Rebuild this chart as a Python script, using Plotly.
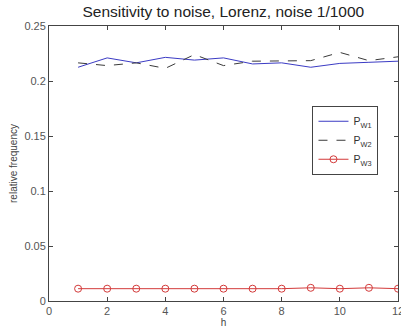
import plotly.graph_objects as go

h = list(range(1, 13))
p_w1 = [0.2125, 0.2210, 0.2165, 0.2215, 0.2190, 0.2210, 0.2155, 0.2165, 0.2125, 0.2160, 0.2170, 0.2180]
p_w2 = [0.2165, 0.2140, 0.2165, 0.2115, 0.2240, 0.2140, 0.2180, 0.2185, 0.2185, 0.2260, 0.2185, 0.2220]
p_w3 = [0.0112, 0.0112, 0.0112, 0.0112, 0.0112, 0.0112, 0.0112, 0.0112, 0.0120, 0.0112, 0.0120, 0.0112]

x_ticks = [0, 2, 4, 6, 8, 10, 12]
y_ticks = [0, 0.05, 0.1, 0.15, 0.2, 0.25]
y_tick_text = ["0", "0.05", "0.1", "0.15", "0.2", "0.25"]

fig = go.Figure()
fig.add_trace(go.Scatter(x=h, y=p_w1, mode="lines", name="P<sub>W1</sub>",
                         line=dict(color="#3b3bc4", width=1)))
fig.add_trace(go.Scatter(x=h, y=p_w2, mode="lines", name="P<sub>W2</sub>",
                         line=dict(color="#3a3a3a", width=1, dash="dash")))
fig.add_trace(go.Scatter(x=h, y=p_w3, mode="lines+markers", name="P<sub>W3</sub>",
                         line=dict(color="#d33a3a", width=1),
                         marker=dict(symbol="circle-open", size=7, color="#d33a3a",
                                     line=dict(width=1))))

axis_common = dict(showline=True, linecolor="#444", linewidth=1, mirror="ticks",
                   ticks="inside", ticklen=4, tickcolor="#444", showgrid=False,
                   zeroline=False, ticklabeloverflow="allow",
                   tickfont=dict(family="Liberation Sans, Arial", size=11, color="#555"))

fig.update_xaxes(range=[0, 12], tickvals=x_ticks, ticktext=[str(v) for v in x_ticks],
                 title=dict(text="h", font=dict(family="Liberation Sans, Arial", size=10, color="#444"), standoff=2),
                 **axis_common)
fig.update_yaxes(range=[0, 0.25], tickvals=y_ticks, ticktext=y_tick_text,
                 title=dict(text="relative frequency", font=dict(family="Liberation Sans, Arial", size=10, color="#444"), standoff=4),
                 **axis_common)

fig.update_layout(
    width=401, height=331,
    margin=dict(l=49, r=3, t=26, b=30, autoexpand=False),
    plot_bgcolor="white", paper_bgcolor="white",
    title=dict(text="Sensitivity to noise, Lorenz, noise 1/1000",
               font=dict(family="Liberation Sans, Arial", size=15.5, color="#222"),
               x=0.557, xanchor="center", y=0.965, yanchor="middle"),
    legend=dict(x=0.755, y=0.71, xanchor="left", yanchor="top",
                bgcolor="white", bordercolor="#444", borderwidth=1,
                font=dict(family="Liberation Sans, Arial", size=10.5, color="#333"),
                tracegroupgap=0, itemwidth=30),
    showlegend=True,
)

fig.write_html("out.html")
